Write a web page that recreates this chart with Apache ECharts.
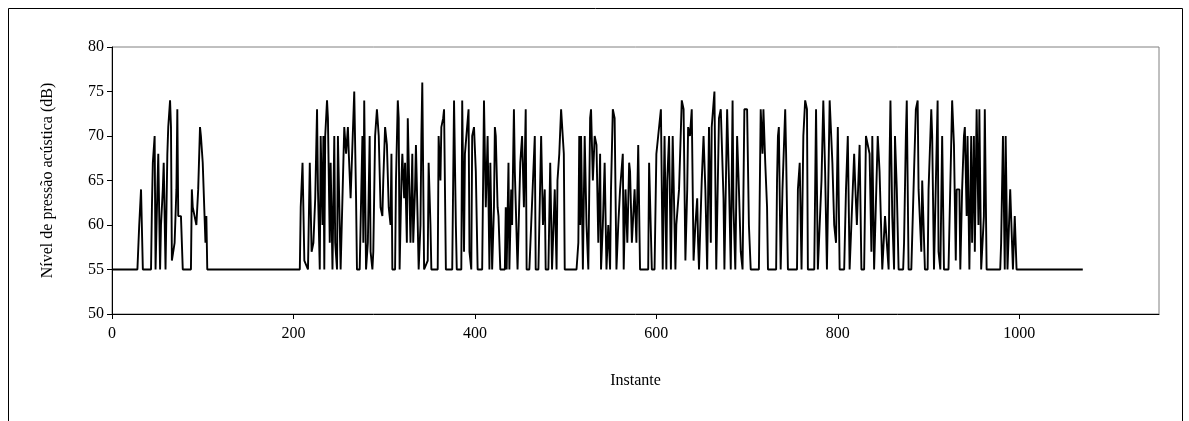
<!DOCTYPE html>
<html>
<head>
<meta charset="utf-8">
<script src="https://cdn.jsdelivr.net/npm/echarts@6/dist/echarts.min.js"></script>
<style>
  html, body { margin: 0; padding: 0; background: #fff; }
  #chart { width: 1189px; height: 421px; }
</style>
</head>
<body>
<div id="chart"></div>
<script>
// Sound pressure level per instant (peaks and returns to the 55 dB floor)
const instants = [
  0, 28, 30, 32, 34, 43, 44, 45, 47, 48, 50, 51, 53, 54, 56, 57, 59, 61, 62, 64, 65, 66, 69, 71, 72, 73, 76, 78,
  87, 88, 89, 91, 93, 95, 97, 98, 100, 101, 103, 104, 105,
  207, 208, 210, 212, 216, 218, 220, 222, 224, 226, 227, 229, 230, 232, 233, 234, 235, 237, 238, 240, 241, 243,
  245, 246, 248, 249, 251, 252, 254, 256, 258, 260, 261, 263, 266, 267, 269, 270, 273,
  276, 277, 278, 280, 282, 284, 285, 287, 288, 290, 292, 294, 296, 298, 299, 301, 303, 305, 307, 308, 309, 312,
  313, 315, 316, 317, 319, 320, 322, 323, 325, 326, 328, 329, 331, 332, 334, 335, 337, 338, 340, 341, 342, 344,
  346, 348, 349,
  351, 352, 359, 360, 362, 363, 365, 366, 368, 375, 377, 379, 380, 385, 386, 388, 389, 391, 393, 394, 396, 397,
  399, 401, 403, 408, 410, 412, 414, 416, 417, 419, 421, 422,
  423, 425, 426, 428, 433, 434, 435, 437, 438, 440, 441, 443, 444, 447, 450, 452, 454, 456, 457, 460, 462, 464,
  466, 467, 470, 473, 475, 477, 478, 481, 483, 485, 488, 490, 491, 493, 495, 497,
  498, 499, 512, 514, 515, 516, 517, 519, 521, 523, 525, 527, 528, 530, 532, 534, 536, 538, 539, 541, 543, 545,
  547, 549, 550, 552, 554, 556, 558, 560, 563, 564, 566, 568, 570,
  571, 573, 576, 578, 580, 582, 591, 592, 595, 598, 600, 602, 605, 607, 609, 611, 612, 614, 616, 618, 621, 622,
  625, 628, 630, 632, 634, 635, 637, 639, 641, 643, 645,
  646, 647, 649, 650, 652, 654, 656, 658, 660, 661, 664, 666, 669, 671, 674, 675, 678, 680, 682, 684, 685, 687,
  689, 691, 693, 695, 697, 700, 702, 704, 713, 715, 717, 718,
  720, 722, 723, 732, 733, 734, 735, 737, 739, 742, 743, 745, 755, 756, 758, 760, 762, 764, 766, 767, 774, 776,
  778, 780, 782, 784, 786, 788, 790, 791,
  793, 794, 796, 798, 800, 802, 807, 809, 811, 813, 815, 818, 819, 821, 824, 826, 829, 831, 833, 835, 837, 838,
  840, 842, 844, 846, 849, 851, 852, 854, 856, 857, 858, 860, 862, 863, 865,
  867, 872, 873, 875, 876, 878, 881, 884, 886, 888, 889, 892, 893, 894, 896, 899, 900, 903, 904, 906, 908, 910,
  911, 913, 915, 917, 922, 926, 928, 930, 931, 934, 935, 937, 939,
  940, 942, 943, 945, 947, 948, 950, 951, 953, 955, 956, 958, 961, 962, 964, 979, 980, 982, 984, 985, 987, 990,
  993, 995, 997, 1070
];

const levels = [
  55, 55, 60, 64, 55, 55, 62, 67, 70, 55, 64, 68, 55, 60, 64, 67, 55, 68, 71, 74, 71, 56, 58, 64, 73, 61, 61, 55,
  55, 64, 62, 61, 60, 64, 71, 70, 67, 67, 58, 61, 55,
  55, 62, 67, 56, 55, 67, 57, 58, 63, 73, 64, 55, 70, 60, 70, 55, 70, 74, 72, 58, 67, 55,
  70, 58, 55, 70, 70, 55, 63, 71, 68, 71, 68, 63, 72, 75, 63, 55, 55,
  70, 58, 74, 55, 58, 70, 57, 55, 57, 70, 73, 70, 62, 61, 65, 71, 69, 62, 60, 68, 55, 55,
  65, 74, 72, 55, 65, 68, 63, 67, 58, 72, 72, 58, 68, 58, 64, 69, 60, 55, 60, 70, 76, 55,
  55, 56, 67,
  60, 55, 55, 70, 65, 71, 72, 73, 55, 55, 74, 60, 55, 55, 74, 57, 68, 68, 73, 57, 55, 70,
  71, 66, 55, 55, 74, 62, 70, 55, 67, 55, 62, 71,
  70, 62, 61, 55, 55, 62, 55, 67, 55, 64, 60, 73, 66, 55, 67, 70, 62, 73, 55, 55, 60, 65,
  70, 55, 55, 70, 60, 64, 55, 55, 67, 55, 64, 55, 65, 68, 73, 73,
  68, 55, 55, 58, 70, 60, 70, 55, 70, 60, 55, 72, 73, 65, 70, 69, 58, 68, 55, 60, 67, 55,
  60, 55, 64, 73, 72, 55, 60, 64, 68, 55, 64, 58, 67,
  66, 58, 64, 58, 69, 55, 55, 67, 55, 55, 68, 70, 73, 55, 70, 55, 65, 70, 55, 70, 55, 60,
  64, 74, 73, 56, 64, 71, 70, 73, 56, 60, 63,
  58, 55, 55, 65, 70, 64, 55, 71, 58, 71, 75, 55, 72, 73, 63, 55, 73, 65, 55, 74, 62, 55,
  70, 64, 57, 55, 73, 73, 60, 55, 55, 73, 68, 73,
  67, 62, 55, 55, 65, 70, 71, 55, 64, 73, 68, 55, 55, 64, 67, 55, 70, 74, 73, 55, 55, 73,
  55, 55, 65, 74, 66, 55, 55, 74,
  74, 67, 60, 58, 71, 55, 55, 64, 70, 55, 55, 68, 65, 60, 69, 55, 55, 70, 70, 68, 57, 70,
  55, 55, 70, 66, 55, 55, 61, 61, 55, 67, 74, 61, 55, 70, 64,
  55, 55, 58, 70, 74, 55, 55, 66, 73, 74, 64, 57, 65, 65, 55, 55, 64, 73, 70, 55, 55, 74,
  57, 55, 70, 55, 55, 74, 69, 56, 64, 64, 55, 64, 70,
  71, 61, 70, 55, 70, 58, 70, 57, 73, 60, 73, 55, 61, 73, 55, 55, 58, 70, 55, 70, 55, 64,
  55, 61, 55, 55
];

const xTicks = { min: 0, max: 1154, step: 200 };
const yTicks = { min: 50, max: 80, step: 5 };
const xTitle = 'Instante';
const yTitle = 'Nível de pressão acústica (dB)';

const seriesData = instants.map((t, i) => [t, levels[i]]);

const font = "'Liberation Serif', 'Times New Roman', serif";
const chart = echarts.init(document.getElementById('chart'), null, { renderer: 'canvas' });

chart.setOption({
  animation: false,
  backgroundColor: '#ffffff',
  graphic: [{
    type: 'rect',
    shape: { x: 8.5, y: 8.5, width: 1174, height: 440 },
    style: { fill: 'none', stroke: '#000', lineWidth: 1 },
    silent: true,
    z: -10
  }],
  grid: {
    left: 112, right: 30, top: 47, bottom: 107,
    show: true,
    borderColor: '#808080',
    borderWidth: 1
  },
  xAxis: {
    type: 'value',
    min: xTicks.min, max: xTicks.max, interval: xTicks.step,
    name: xTitle,
    nameLocation: 'middle',
    nameGap: 59,
    nameTextStyle: { fontFamily: font, fontSize: 16, color: '#000' },
    axisLine: { show: true, onZero: false, lineStyle: { color: '#000', width: 1 } },
    axisTick: { show: true, inside: false, length: 5, lineStyle: { color: '#000' } },
    axisLabel: {
      fontFamily: font, fontSize: 16, color: '#000', margin: 12, showMaxLabel: false,
      formatter: (v) => String(v)
    },
    splitLine: { show: false }
  },
  yAxis: {
    type: 'value',
    min: yTicks.min, max: yTicks.max, interval: yTicks.step,
    name: yTitle,
    nameLocation: 'middle',
    nameGap: 56,
    nameRotate: 90,
    nameTextStyle: { fontFamily: font, fontSize: 16, color: '#000' },
    axisLine: { show: true, lineStyle: { color: '#000', width: 1 } },
    axisTick: { show: true, inside: false, length: 5, lineStyle: { color: '#000' } },
    axisLabel: { fontFamily: font, fontSize: 16, color: '#000', margin: 8 },
    splitLine: { show: false }
  },
  series: [{
    type: 'line',
    data: seriesData,
    showSymbol: false,
    symbol: 'none',
    lineStyle: { color: '#000', width: 1.9 },
    clip: true
  }]
});
</script>
</body>
</html>
